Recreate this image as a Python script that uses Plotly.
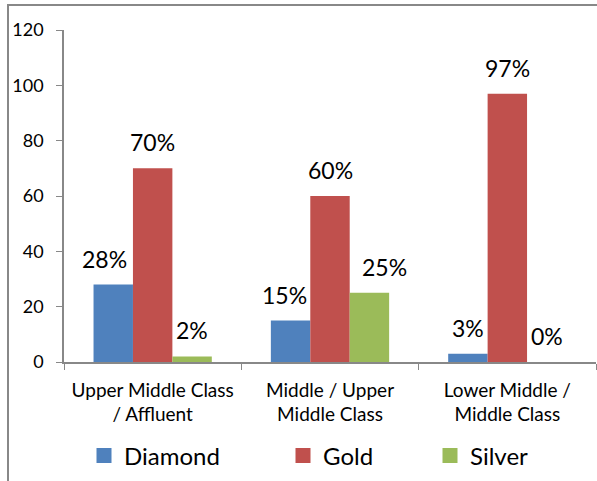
import plotly.graph_objects as go

categories = ["Upper Middle Class<br>/ Affluent", "Middle / Upper<br>Middle Class", "Lower Middle /<br>Middle Class"]
series_names = ["Diamond", "Gold", "Silver"]
diamond = [28, 15, 3]
gold = [70, 60, 97]
silver = [2, 25, 0]
y_ticks = [0, 20, 40, 60, 80, 100, 120]

values = [diamond, gold, silver]
colors = ["#4F81BD", "#C0504D", "#9BBB59"]
FONT = "Lato"

W, H = 597, 481
ml, mr, mt, mb = 64, 1, 30, 119
plot_w = W - ml - mr
plot_h = H - mt - mb
cat_w = plot_w / len(categories)
bargap = 0.333
bar_w = cat_w * (1 - bargap) / len(series_names)

# horizontal nudges (px) of some data labels, as placed in the original to avoid overlaps
label_nudge = {(0, 0): -9, (0, 1): -6, (2, 1): 15}

# legend left edges (pixels) for the three separate legend boxes
legend_px = [84, 283, 430]
legend_names = ["legend", "legend2", "legend3"]

fig = go.Figure()
for name, vals, col, lg in zip(series_names, values, colors, legend_names):
    fig.add_trace(go.Bar(name=name, x=categories, y=vals, showlegend=False,
                         marker=dict(color=col, line=dict(width=0))))
    # legend entry with a larger square swatch
    fig.add_trace(go.Scatter(name=name, x=[None], y=[None], mode="markers", legend=lg,
                             marker=dict(symbol="square", size=15, color=col), showlegend=True))

annotations = []
for si, vals in enumerate(values):
    off = (si - 1) * bar_w
    for ci, (c, v) in enumerate(zip(categories, vals)):
        annotations.append(dict(x=c, y=v, xref="x", yref="y", text=f"{v}%", showarrow=False,
                                xshift=off + label_nudge.get((si, ci), 0), yshift=26, yanchor="middle",
                                font=dict(family=FONT, size=23, color="#000")))

legend_common = dict(orientation="h", xanchor="left", y=-0.283, yanchor="middle",
                     font=dict(size=24, family=FONT, color="#000"), bgcolor="rgba(0,0,0,0)")
legends = {}
for lg, px in zip(legend_names, legend_px):
    legends[lg] = dict(legend_common, x=(px - ml) / plot_w)

fig.update_layout(
    width=W, height=H,
    margin=dict(l=ml, r=mr, t=mt, b=mb),
    paper_bgcolor="white", plot_bgcolor="white",
    barmode="group", bargap=bargap, bargroupgap=0,
    font=dict(family=FONT, color="#000"),
    showlegend=True,
    annotations=annotations,
    shapes=[dict(type="rect", xref="paper", yref="paper",
                 x0=(8 - ml) / plot_w, x1=1.2, y0=-0.6, y1=1 + (mt - 5) / plot_h,
                 line=dict(color="#888888", width=2), layer="below")],
    **legends,
)
fig.update_xaxes(showline=True, linecolor="#888888", linewidth=1.5, ticks="outside", tickson="boundaries",
                 ticklen=6, tickcolor="#888888", showgrid=False, ticklabelstandoff=10,
                 tickfont=dict(size=19, family=FONT))
fig.update_yaxes(range=[0, 120], tickvals=y_ticks, showline=True, linecolor="#888888", linewidth=1.5,
                 ticks="outside", ticklen=6, tickcolor="#888888", showgrid=False, zeroline=False,
                 ticklabelstandoff=9, tickfont=dict(size=18, family=FONT))

fig.write_html("out.html")
